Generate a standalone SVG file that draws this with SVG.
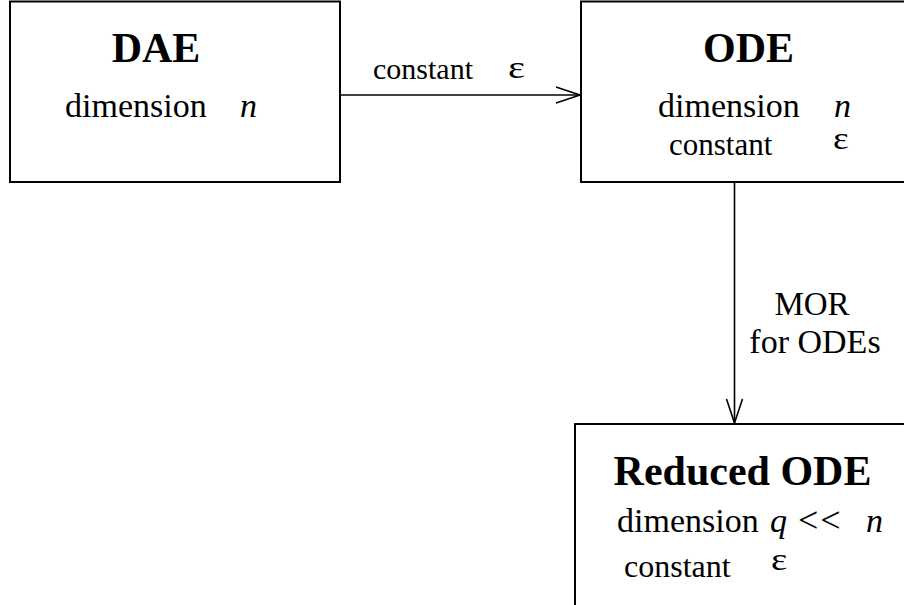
<svg xmlns="http://www.w3.org/2000/svg" width="904" height="605" viewBox="0 0 904 605">
<style>
.box{fill:#fff;stroke:#000;stroke-width:2}
.t{font-family:"Liberation Serif","Times New Roman",serif;fill:#000}
.title{font-weight:bold;font-size:42px}
.body{font-size:34px}
.it{font-style:italic}
.eps{font-size:31px}
.line{fill:none;stroke:#000;stroke-width:1.6}
</style>
<defs>
<marker id="arr" markerUnits="userSpaceOnUse" markerWidth="30" markerHeight="20" refX="25" refY="9" orient="auto" viewBox="0 0 30 20">
<path d="M1,1 L25,9 L1,17" fill="none" stroke="#000" stroke-width="1.6"/>
</marker>
</defs>
<rect width="904" height="605" fill="#fff"/>
<g id="connectors">
<line class="line" x1="340" y1="95" x2="580" y2="95" marker-end="url(#arr)"/>
<line class="line" x1="734.5" y1="182" x2="734.5" y2="423" marker-end="url(#arr)"/>
<text class="t" x="373" y="79" font-size="30">constant</text>
<text class="t eps" transform="translate(508,78) scale(1.3,1)">ε</text>
<text class="t" x="812" y="315" font-size="33" text-anchor="middle">MOR</text>
<text class="t body" x="815" y="353" text-anchor="middle">for ODEs</text>
</g>
<g id="dae">
<rect class="box" x="10" y="1.5" width="330" height="180.5"/>
<text class="t title" x="156" y="62" text-anchor="middle">DAE</text>
<text class="t body" x="65" y="117">dimension</text>
<text class="t body it" x="240" y="117">n</text>
</g>
<g id="ode">
<rect class="box" x="581" y="1.5" width="340" height="180.5"/>
<text class="t title" x="748.5" y="62" text-anchor="middle">ODE</text>
<text class="t body" x="658" y="117">dimension</text>
<text class="t body it" x="834" y="117">n</text>
<text class="t" x="669" y="155" font-size="31">constant</text>
<text class="t eps" transform="translate(833,149) scale(1.2,1)">ε</text>
</g>
<g id="reduced">
<rect class="box" x="575" y="424" width="345" height="200"/>
<text class="t title" x="742.5" y="485" text-anchor="middle">Reduced ODE</text>
<text class="t body" x="617" y="532">dimension</text>
<text class="t body it" x="770" y="532">q</text>
<text class="t" x="798" y="532" font-size="36" letter-spacing="2">&lt;&lt;</text>
<text class="t body it" x="866" y="532">n</text>
<text class="t" x="624" y="577" font-size="32">constant</text>
<text class="t eps" transform="translate(771,570) scale(1.25,1)">ε</text>
</g>
</svg>
